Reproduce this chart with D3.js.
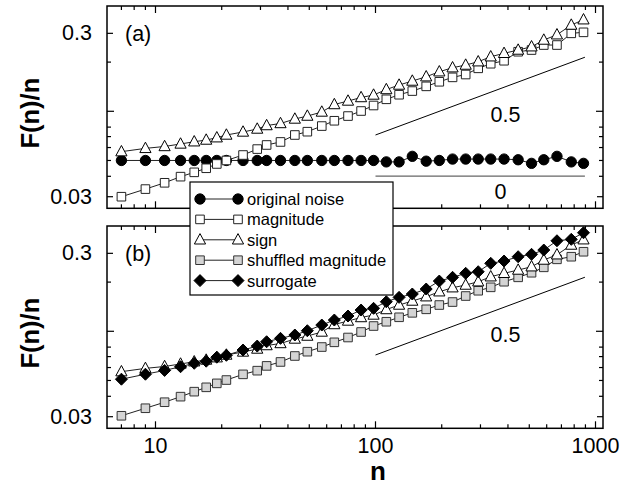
<!DOCTYPE html>
<html><head><meta charset="utf-8">
<script src="https://cdn.jsdelivr.net/npm/d3@7/dist/d3.min.js"></script>
<style>html,body{margin:0;padding:0;background:#fff}svg{display:block;font-family:"Liberation Sans",Arial,sans-serif}</style>
</head><body>
<svg id="chart" width="635" height="485"></svg>
<script>
// ---- data ----
const nValues = [7,9,11,13,15,17,19,21,25,29,32,37,43,49,57,65,75,86,98,112,128,147,170,195,224,257,293,334,384,445,512,582,668,776,882];
const originalNoise = [0.050,0.050,0.050,0.050,0.050,0.050,0.050,0.050,0.050,0.050,0.050,0.050,0.050,0.050,0.050,0.050,0.050,0.050,0.050,0.049,0.049,0.053,0.0495,0.050,0.051,0.051,0.051,0.051,0.051,0.0505,0.048,0.0505,0.053,0.049,0.048];
const magnitude = [0.0300,0.0334,0.0365,0.0398,0.0423,0.0448,0.0476,0.0500,0.0540,0.0587,0.0622,0.0649,0.0716,0.0750,0.0812,0.0875,0.0935,0.1004,0.1085,0.1184,0.1263,0.1330,0.1421,0.1516,0.1613,0.1679,0.1832,0.1955,0.2039,0.2315,0.2371,0.2544,0.2544,0.300,0.3043];
const sign = [0.0566,0.0593,0.0609,0.0631,0.0651,0.0667,0.0689,0.0716,0.0747,0.0779,0.0818,0.0842,0.0897,0.0935,0.0990,0.110,0.1156,0.1214,0.1258,0.1359,0.1448,0.1532,0.1628,0.1746,0.1848,0.1919,0.2011,0.2157,0.2264,0.2371,0.2484,0.2730,0.2941,0.3372,0.3634];
const shuffledMagnitude = [0.0304,0.0338,0.0368,0.0398,0.0427,0.0454,0.0480,0.0503,0.0545,0.0574,0.0614,0.0649,0.0706,0.0750,0.0801,0.0856,0.0916,0.0990,0.1077,0.1144,0.1218,0.1297,0.1363,0.1448,0.1510,0.1644,0.1771,0.1858,0.2011,0.2139,0.2282,0.2463,0.2757,0.2860,0.3068];
const surrogate = [0.0509,0.0546,0.0576,0.0607,0.0637,0.0656,0.0694,0.0713,0.0768,0.0812,0.0863,0.0905,0.0949,0.1008,0.1092,0.1172,0.1240,0.1349,0.1382,0.1516,0.1613,0.1691,0.1814,0.2030,0.2139,0.2264,0.2315,0.2606,0.2692,0.2860,0.2958,0.3143,0.3582,0.3654,0.4011];
const refN = [100, 895];
const refHalf = [0.0716, 0.2142];
const refZero = [0.0401, 0.0401];
const yTickLabels = [0.3, 0.03];
const yMajorTicks = [0.1];
const yMinorTicks = [0.04,0.05,0.06,0.07,0.08,0.2];
const xTickLabels = [10, 100, 1000];
const xMinorTicks = [7,8,9,20,30,40,50,60,70,80,90,200,300,400,500,600,700,800,900];
const legendNames = ["original noise","magnitude","sign","shuffled magnitude","surrogate"];

// ---- layout ----
const svg = d3.select("#chart");
const L = 107, R = 603;
const x = d3.scaleLog().domain([6.02, 1081.6]).range([L, R]);
const panels = [{top: 6, bottom: 208.3, label: "(a)"}, {top: 226, bottom: 428.3, label: "(b)"}];
const yDomain = [0.02548, 0.441];

const styles = {
  "original noise": {shape: "circle", fill: "#000", stroke: "#000"},
  "magnitude": {shape: "square", fill: "#fff", stroke: "#222"},
  "sign": {shape: "triangle", fill: "#fff", stroke: "#000"},
  "shuffled magnitude": {shape: "square", fill: "#d4d4d4", stroke: "#333"},
  "surrogate": {shape: "diamond", fill: "#000", stroke: "#000"}
};
function markerPath(shape) {
  if (shape === "circle") return d3.symbol(d3.symbolCircle, 84)();
  if (shape === "square") return "M-4.3,-4.3H4.3V4.3H-4.3Z";
  if (shape === "triangle") return "M0,-6.2L5.6,4.2L-5.6,4.2Z";
  if (shape === "diamond") return "M0,-6L6,0L0,6L-6,0Z";
}

function drawPanel(p, seriesList, showZero, showXLabels) {
  const y = d3.scaleLog().domain(yDomain).range([p.bottom, p.top]);
  const g = svg.append("g");
  g.append("rect").attr("x", L).attr("y", p.top).attr("width", R - L).attr("height", p.bottom - p.top)
    .attr("fill", "none").attr("stroke", "#000").attr("stroke-width", 1.5);
  const yt = [...yTickLabels.map(v => [v, 6]), ...yMajorTicks.map(v => [v, 7]), ...yMinorTicks.map(v => [v, 4])];
  yt.forEach(([v, len]) => {
    g.append("line").attr("x1", L).attr("x2", L + len).attr("y1", y(v)).attr("y2", y(v)).attr("stroke", "#000").attr("stroke-width", 1.2);
    g.append("line").attr("x1", R).attr("x2", R - len).attr("y1", y(v)).attr("y2", y(v)).attr("stroke", "#000").attr("stroke-width", 1.2);
  });
  const xt = [...xTickLabels.map(v => [v, 7]), ...xMinorTicks.map(v => [v, 4])];
  xt.forEach(([v, len]) => {
    g.append("line").attr("x1", x(v)).attr("x2", x(v)).attr("y1", p.bottom).attr("y2", p.bottom - len).attr("stroke", "#000").attr("stroke-width", 1.2);
    g.append("line").attr("x1", x(v)).attr("x2", x(v)).attr("y1", p.top).attr("y2", p.top + len).attr("stroke", "#000").attr("stroke-width", 1.2);
  });
  yTickLabels.forEach(v => {
    g.append("text").attr("x", 92).attr("y", y(v)).attr("text-anchor", "end").attr("dominant-baseline", "central")
      .attr("font-size", 21.5).text(v);
  });
  if (showXLabels) {
    xTickLabels.forEach(v => {
      g.append("text").attr("x", x(v)).attr("y", 446).attr("text-anchor", "middle").attr("dominant-baseline", "central")
        .attr("font-size", 21.5).text(v);
    });
  }
  g.append("text").attr("x", 125).attr("y", p.top + 28).attr("dominant-baseline", "central").attr("font-size", 21.5).text(p.label);
  const line = d3.line().x(d => x(d[0])).y(d => y(d[1]));
  g.append("path").attr("d", line(refN.map((n, i) => [n, refHalf[i]]))).attr("fill", "none").attr("stroke", "#000").attr("stroke-width", 1);
  g.append("text").attr("x", x(390)).attr("y", y(0.0949)).attr("text-anchor", "middle").attr("dominant-baseline", "central").attr("font-size", 21.5).text("0.5");
  if (showZero) {
    g.append("path").attr("d", line(refN.map((n, i) => [n, refZero[i]]))).attr("fill", "none").attr("stroke", "#666").attr("stroke-width", 1.2);
    g.append("text").attr("x", x(370)).attr("y", y(0.0401) + 16).attr("text-anchor", "middle").attr("dominant-baseline", "central").attr("font-size", 21.5).text("0");
  }
  seriesList.forEach(s => {
    const st = styles[s.name];
    const pts = nValues.map((n, i) => [n, s.values[i]]);
    g.append("path").attr("d", line(pts)).attr("fill", "none").attr("stroke", "#222").attr("stroke-width", 1);
    g.selectAll(null).data(pts).enter().append("path")
      .attr("transform", d => `translate(${x(d[0])},${y(d[1])})`)
      .attr("d", markerPath(st.shape)).attr("fill", st.fill).attr("stroke", st.stroke).attr("stroke-width", 1);
  });
  g.append("text").attr("transform", `translate(39,${(p.top + p.bottom) / 2 + 6}) rotate(-90)`)
    .attr("text-anchor", "middle").attr("font-size", 25.5).attr("font-weight", "bold").text("F(n)/n");
}

drawPanel(panels[0], [
  {name: "original noise", values: originalNoise},
  {name: "magnitude", values: magnitude},
  {name: "sign", values: sign}
], true, false);
drawPanel(panels[1], [
  {name: "shuffled magnitude", values: shuffledMagnitude},
  {name: "sign", values: sign},
  {name: "surrogate", values: surrogate}
], false, true);

svg.append("text").attr("x", 378).attr("y", 480).attr("text-anchor", "middle").attr("font-size", 26).attr("font-weight", "bold").text("n");

const lg = svg.append("g");
lg.append("rect").attr("x", 190).attr("y", 182).attr("width", 203).attr("height", 113).attr("fill", "#fff").attr("stroke", "#000").attr("stroke-width", 1.2);
legendNames.forEach((name, i) => {
  const st = styles[name];
  const yy = 199 + i * 20.4;
  lg.append("line").attr("x1", 200).attr("x2", 238).attr("y1", yy).attr("y2", yy).attr("stroke", "#222").attr("stroke-width", 1);
  [200, 238].forEach(xx => {
    lg.append("path").attr("transform", `translate(${xx},${yy})`).attr("d", markerPath(st.shape))
      .attr("fill", st.fill).attr("stroke", st.stroke).attr("stroke-width", 1);
  });
  lg.append("text").attr("x", 247).attr("y", yy).attr("dominant-baseline", "central").attr("font-size", 16.5).text(name);
});
</script>
</body></html>
